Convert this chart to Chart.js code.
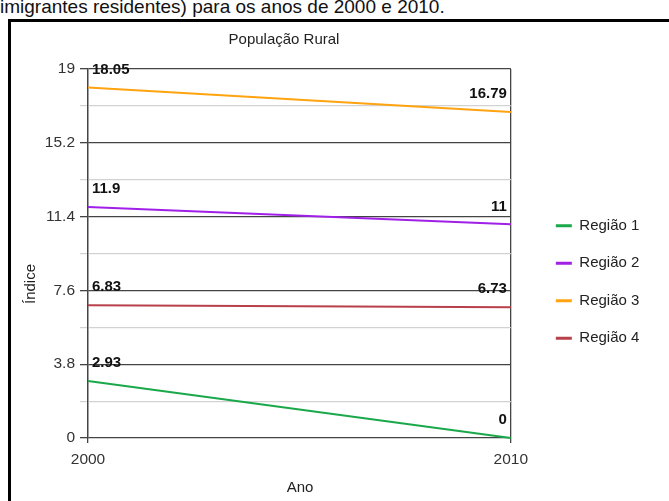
<!DOCTYPE html>
<html>
<head>
<meta charset="utf-8">
<script src="https://cdn.jsdelivr.net/npm/chart.js@4.4.1/dist/chart.umd.min.js"></script>
<style>
  html, body { margin: 0; padding: 0; background: #fff; overflow: hidden; }
  body { width: 669px; height: 501px; position: relative; font-family: "Liberation Sans", Arial, sans-serif; }
  #caption { position: absolute; left: 0; top: -5px; font-size: 19px; line-height: 24px; color: #111; white-space: nowrap; }
  #frame { position: absolute; left: 8px; top: 19px; width: 720px; height: 540px; border-left: 3px solid #000; border-top: 3px solid #000; }
  #wrap { position: absolute; left: 0; top: 0; width: 669px; height: 501px; }
</style>
</head>
<body>
<div id="caption">imigrantes residentes) para os anos de 2000 e 2010.</div>
<div id="frame"></div>
<div id="wrap"><canvas id="c" width="669" height="501"></canvas></div>
<script>
// Rural population index by region, 2000 and 2010
const years = [2000, 2010];
const regiao1 = [2.93, 0];
const regiao2 = [11.9, 11];
const regiao3 = [18.05, 16.79];
const regiao4 = [6.83, 6.73];
const seriesNames = ['Região 1', 'Região 2', 'Região 3', 'Região 4'];
const seriesColors = ['#1aa84a', '#a020e8', '#ffa310', '#b8404a'];
const yTicks = [0, 1.9, 3.8, 5.7, 7.6, 9.5, 11.4, 13.3, 15.2, 17.1, 19];
const yTickLabels = ['0', '', '3.8', '', '7.6', '', '11.4', '', '15.2', '', '19'];

const chartTitle = 'População Rural';
const xTitle = 'Ano';
const yTitle = 'Índice';

const FONT = '"Liberation Sans", Arial, sans-serif';

const seriesValues = [regiao1, regiao2, regiao3, regiao4];
const datasets = seriesValues.map((vals, i) => ({
  label: seriesNames[i],
  data: vals.map((v, j) => ({ x: years[j], y: v })),
  borderColor: seriesColors[i],
  backgroundColor: seriesColors[i],
  borderWidth: 2,
  pointRadius: 0,
  pointHoverRadius: 0,
  tension: 0,
  clip: 6
}));

// Titles and end-point value labels
const annotate = {
  id: 'annotate',
  afterDatasetsDraw(chart) {
    const { ctx } = chart;
    ctx.save();
    ctx.fillStyle = '#111';
    ctx.font = 'bold 15px ' + FONT;
    ctx.textBaseline = 'middle';
    chart.data.datasets.forEach((ds, di) => {
      const meta = chart.getDatasetMeta(di);
      meta.data.forEach((pt, pi) => {
        const v = seriesValues[di][pi];
        if (pi === 0) {
          ctx.textAlign = 'left';
          ctx.fillText(String(v), pt.x + 4, pt.y - 18);
        } else {
          ctx.textAlign = 'right';
          ctx.fillText(String(v), pt.x - 4, pt.y - 18);
        }
      });
    });
    ctx.restore();
  },
  afterDraw(chart) {
    const { ctx } = chart;
    ctx.save();
    ctx.fillStyle = '#222';
    ctx.textAlign = 'center';
    ctx.textBaseline = 'middle';
    ctx.font = '15px ' + FONT;
    ctx.fillText(chartTitle, 284, 40);
    ctx.fillText(xTitle, 300, 488);
    ctx.translate(31, 284);
    ctx.rotate(-Math.PI / 2);
    ctx.fillText(yTitle, 0, 0);
    ctx.restore();
  }
};

new Chart(document.getElementById('c'), {
  type: 'line',
  data: { datasets },
  plugins: [annotate],
  options: {
    responsive: false,
    animation: false,
    devicePixelRatio: 1,
    layout: { padding: { top: 69, right: 29, bottom: 6, left: 0 } },
    plugins: {
      title: { display: false },
      tooltip: { enabled: false },
      legend: {
        position: 'right',
        align: 'center',
        labels: {
          font: { family: FONT, size: 15 },
          color: '#222',
          boxWidth: 16,
          boxHeight: 3,
          padding: 22.5,
          generateLabels(chart) {
            return chart.data.datasets.map((ds, i) => ({
              text: ds.label,
              fillStyle: ds.borderColor,
              strokeStyle: ds.borderColor,
              lineWidth: 0,
              hidden: false,
              datasetIndex: i,
              fontColor: '#222'
            }));
          }
        }
      }
    },
    scales: {
      x: {
        type: 'linear',
        min: years[0],
        max: years[years.length - 1],
        afterBuildTicks(scale) { scale.ticks = years.map(v => ({ value: v })); },
        afterFit(scale) { scale.height = 57; },
        grid: { color: '#444', lineWidth: 1.3, tickLength: 5, tickColor: '#444' },
        border: { display: false },
        ticks: {
          font: { family: FONT, size: 15.5 },
          color: '#333',
          padding: 7,
          maxRotation: 0,
          callback: v => String(v)
        }
      },
      y: {
        min: yTicks[0],
        max: yTicks[yTicks.length - 1],
        afterBuildTicks(scale) { scale.ticks = yTicks.map(v => ({ value: v })); },
        afterFit(scale) { scale.width = 88; },
        grid: {
          color: c => (c.index % 2 === 0 ? '#444' : '#d2d2d2'),
          lineWidth: c => (c.index % 2 === 0 ? 1.3 : 1.2),
          tickLength: 8,
          tickColor: c => (c.index % 2 === 0 ? '#444' : '#d2d2d2')
        },
        border: { display: true, color: '#444', width: 1.3 },
        ticks: {
          autoSkip: false,
          font: { family: FONT, size: 15.5 },
          color: '#333',
          padding: 5,
          callback: (v, i) => yTickLabels[i]
        }
      },
      gap: {
        position: 'right',
        display: true,
        afterFit(scale) { scale.width = 22.5; },
        grid: { display: false },
        border: { display: false },
        ticks: { display: false }
      }
    }
  }
});
</script>
</body>
</html>
